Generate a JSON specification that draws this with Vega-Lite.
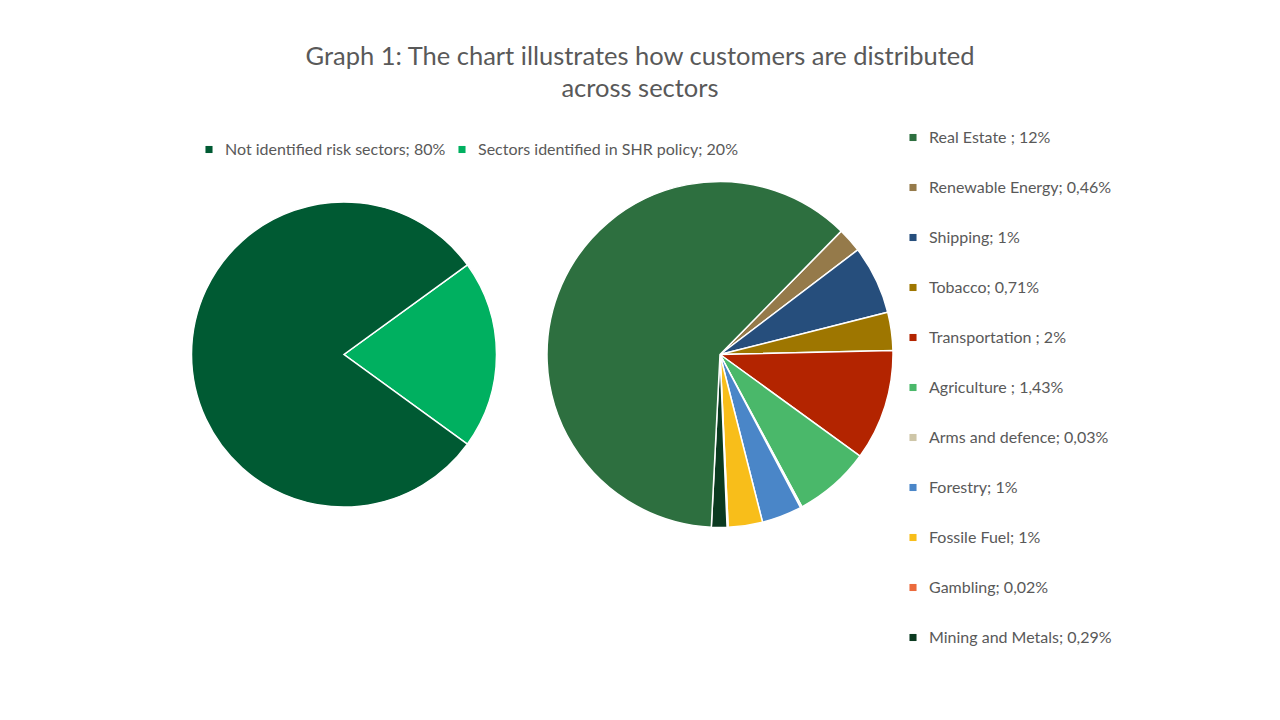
{
  "$schema": "https://vega.github.io/schema/vega-lite/v6.json",
  "width": 1280,
  "height": 485,
  "padding": {"top": 44, "left": 0, "right": 0, "bottom": 0},
  "background": "white",
  "title": {
    "text": ["Graph 1: The chart illustrates how customers are distributed", "across sectors"],
    "fontSize": 25.5,
    "font": "Lato",
    "fontWeight": "normal",
    "color": "#595959",
    "lineHeight": 32,
    "anchor": "middle",
    "offset": 10
  },
  "datasets": {
    "overall": [
      {"pie": "left", "rank": 1, "label": "Sectors identified in SHR policy; 20%", "value": 20},
      {"pie": "left", "rank": 2, "label": "Not identified risk sectors; 80%", "value": 80}
    ],
    "sectors": [
      {"pie": "right", "rank": 1, "label": "Renewable Energy; 0,46%", "value": 0.46},
      {"pie": "right", "rank": 2, "label": "Shipping; 1%", "value": 1.28},
      {"pie": "right", "rank": 3, "label": "Tobacco; 0,71%", "value": 0.71},
      {"pie": "right", "rank": 4, "label": "Transportation ; 2%", "value": 2.07},
      {"pie": "right", "rank": 5, "label": "Agriculture ; 1,43%", "value": 1.43},
      {"pie": "right", "rank": 6, "label": "Arms and defence; 0,03%", "value": 0.03},
      {"pie": "right", "rank": 7, "label": "Forestry; 1%", "value": 0.75},
      {"pie": "right", "rank": 8, "label": "Fossile Fuel; 1%", "value": 0.64},
      {"pie": "right", "rank": 9, "label": "Gambling; 0,02%", "value": 0.02},
      {"pie": "right", "rank": 10, "label": "Mining and Metals; 0,29%", "value": 0.29},
      {"pie": "right", "rank": 11, "label": "Real Estate ; 12%", "value": 12.3}
    ]
  },
  "layer": [
    {
      "data": {"name": "overall"},
      "mark": {"type": "arc", "outerRadius": 152.5, "stroke": "white", "strokeWidth": 1.5},
      "encoding": {
        "x": {"field": "pie", "type": "nominal", "scale": {"type": "point", "domain": ["left", "right"], "range": [344, 720], "padding": 0}, "axis": null},
        "theta": {"field": "value", "type": "quantitative", "stack": true, "scale": {"range": [0.9425, 7.2257]}},
        "order": {"field": "rank", "type": "quantitative"},
        "color": {
          "field": "label",
          "type": "nominal",
          "scale": {
            "domain": ["Not identified risk sectors; 80%", "Sectors identified in SHR policy; 20%"],
            "range": ["#005A33", "#00B060"]
          },
          "legend": {
            "orient": "none",
            "legendX": 201,
            "legendY": 29.5,
            "direction": "horizontal",
            "title": null,
            "symbolType": "square",
            "symbolSize": 50,
            "symbolStrokeWidth": 0,
            "labelFont": "Lato",
            "labelFontSize": 16,
            "labelColor": "#595959",
            "labelOffset": 8,
            "labelLimit": 400,
            "columnPadding": 8
          }
        }
      }
    },
    {
      "data": {"name": "sectors"},
      "mark": {"type": "arc", "outerRadius": 173, "stroke": "white", "strokeWidth": 1.5},
      "encoding": {
        "x": {"field": "pie", "type": "nominal", "scale": {"type": "point", "domain": ["left", "right"], "range": [344, 720], "padding": 0}, "axis": null},
        "theta": {"field": "value", "type": "quantitative", "stack": true, "scale": {"range": [0.7767, 7.0599]}},
        "order": {"field": "rank", "type": "quantitative"},
        "color": {
          "field": "label",
          "type": "nominal",
          "scale": {
            "domain": ["Real Estate ; 12%", "Renewable Energy; 0,46%", "Shipping; 1%", "Tobacco; 0,71%", "Transportation ; 2%", "Agriculture ; 1,43%", "Arms and defence; 0,03%", "Forestry; 1%", "Fossile Fuel; 1%", "Gambling; 0,02%", "Mining and Metals; 0,29%"],
            "range": ["#2D6F3F", "#957A4A", "#264E7C", "#9E7600", "#B32400", "#4AB86A", "#CEC6A8", "#4A86C8", "#F8BE1A", "#EB6A3C", "#0B3A20"]
          },
          "legend": {
            "orient": "none",
            "legendX": 905,
            "legendY": 17.5,
            "direction": "vertical",
            "title": null,
            "symbolType": "square",
            "symbolSize": 50,
            "symbolStrokeWidth": 0,
            "labelFont": "Lato",
            "labelFontSize": 16,
            "labelColor": "#595959",
            "labelOffset": 8,
            "labelLimit": 400,
            "rowPadding": 34
          }
        }
      }
    }
  ],
  "resolve": {"scale": {"theta": "independent", "color": "independent"}},
  "config": {"view": {"stroke": null}, "font": "Lato"}
}
